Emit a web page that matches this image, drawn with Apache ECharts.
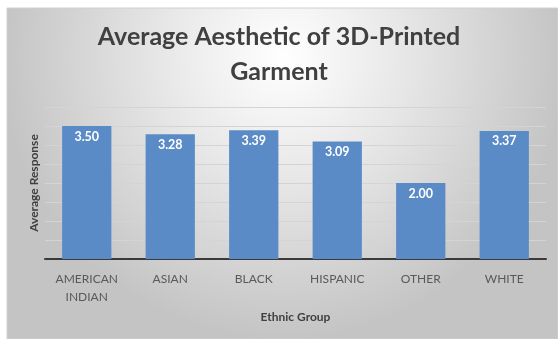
<!DOCTYPE html>
<html>
<head>
<meta charset="utf-8">
<script src="https://cdn.jsdelivr.net/npm/echarts@6/dist/echarts.min.js"></script>
<style>
  html, body { margin: 0; padding: 0; background: #ffffff; }
  #chart { width: 558px; height: 339px; }
</style>
</head>
<body>
<div id="chart"></div>
<script>
// Ethnic groups and their average aesthetic rating
const categories = ['AMERICAN\nINDIAN', 'ASIAN', 'BLACK', 'HISPANIC', 'OTHER', 'WHITE'];
const averages = [3.50, 3.28, 3.39, 3.09, 2.00, 3.37];

const FONT = 'Lato, "Open Sans", sans-serif';

const chart = echarts.init(document.getElementById('chart'), null, { renderer: 'canvas' });

chart.setOption({
  animation: false,
  textStyle: { fontFamily: FONT },
  graphic: [{
    type: 'rect',
    z: -10,
    silent: true,
    shape: { x: 7, y: 8, width: 551, height: 331 },
    style: {
      fill: {
        type: 'radial', x: 0.5, y: 0.15, r: 0.85,
        colorStops: [
          { offset: 0, color: '#ffffff' },
          { offset: 0.45, color: '#e6e6e6' },
          { offset: 1, color: '#c4c4c4' }
        ]
      },
      stroke: '#d0d0d0',
      lineWidth: 1
    }
  }],
  title: {
    text: 'Average Aesthetic of 3D-Printed\nGarment',
    left: 'center',
    top: 19,
    padding: [0, 0, 0, 14],
    textStyle: {
      fontFamily: FONT,
      fontSize: 25,
      fontWeight: 'bold',
      color: '#404040',
      lineHeight: 35
    }
  },
  grid: { left: 45, right: 12, top: 107, bottom: 80 },
  xAxis: {
    type: 'category',
    data: categories,
    name: 'Ethnic Group',
    nameLocation: 'middle',
    nameGap: 52,
    nameTextStyle: { fontFamily: FONT, fontSize: 12, fontWeight: 'bold', color: '#404040' },
    axisLine: { lineStyle: { color: '#3a3a3a', width: 2 } },
    axisTick: { show: false },
    axisLabel: {
      fontFamily: FONT, fontSize: 12, color: '#595959',
      margin: 11, lineHeight: 18, interval: 0
    }
  },
  yAxis: {
    type: 'value',
    min: 0,
    max: 4,
    interval: 0.5,
    name: 'Average Response',
    nameLocation: 'middle',
    nameGap: 5,
    nameTextStyle: { fontFamily: FONT, fontSize: 12, fontWeight: 'bold', color: '#404040' },
    axisLine: { show: false },
    axisTick: { show: false },
    axisLabel: { show: false },
    splitLine: { lineStyle: { color: '#d4d4d4', width: 1 } }
  },
  series: [{
    type: 'bar',
    data: averages,
    barWidth: '59%',
    itemStyle: { color: '#5b8bc7' },
    label: {
      show: true,
      position: 'insideTop',
      distance: 4,
      formatter: p => p.value.toFixed(2),
      fontFamily: FONT,
      fontSize: 12.5,
      fontWeight: 'bold',
      color: '#ffffff'
    }
  }]
});
</script>
</body>
</html>
